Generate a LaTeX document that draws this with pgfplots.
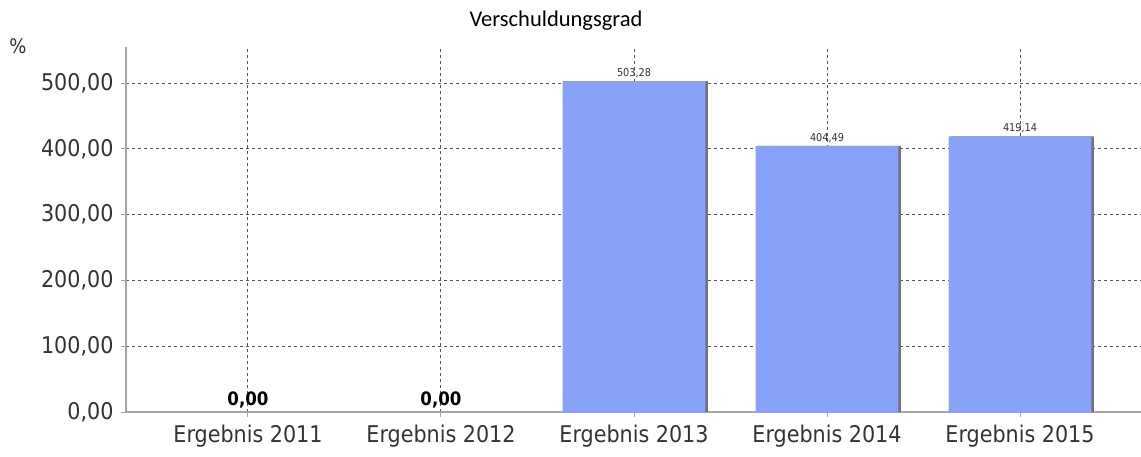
\documentclass[border=0pt]{standalone}
\usepackage{pgfplots}
\pgfplotsset{compat=1.18}
\usepackage{fontspec}
\setmainfont{DejaVu Sans Condensed}
\newfontfamily\titlefont{Carlito}
\usetikzlibrary{shadows}
\definecolor{barblue}{HTML}{87A2F8}
\definecolor{gridgray}{HTML}{555555}
\definecolor{axisgray}{HTML}{A6A6A6}
\definecolor{txtgray}{HTML}{333333}

\begin{document}
\begin{tikzpicture}
\useasboundingbox (0,0) rectangle (1141pt,456pt);
\begin{axis}[
  at={(126pt,44pt)}, anchor=south west,
  width=1015pt, height=365pt, scale only axis,
  xmin=-0.632, xmax=4.627,
  ymin=0, ymax=555,
  axis x line=bottom, axis y line=left,
  axis line style={axisgray, line width=1.6pt, -},
  xtick={0,1,2,3,4},
  xticklabels={Ergebnis 2011, Ergebnis 2012, Ergebnis 2013, Ergebnis 2014, Ergebnis 2015},
  ytick={0,100,200,300,400,500},
  tick align=outside,
  major tick length=5pt,
  tick style={axisgray, line width=1pt},
  grid=major,
  grid style={gridgray, line width=1pt, dash pattern=on 3pt off 3pt},
  ticklabel style={font=\fontsize{23}{25}\selectfont, text=txtgray},
  /pgf/number format/assume math mode=true,
  yticklabel style={/pgf/number format/fixed, /pgf/number format/fixed zerofill,
    /pgf/number format/precision=2, /pgf/number format/use comma,
    /pgf/number format/1000 sep={}, xshift=-4pt},
  xticklabel style={yshift=-4pt},
  ybar, bar width=0.74, bar shift=0pt,
]
\addplot[fill=barblue, draw=none,
  drop shadow={shadow xshift=2.5pt, shadow yshift=0pt, fill=black!55, opacity=1},
  nodes near coords,
  nodes near coords style={font=\fontsize{10.8}{12}\selectfont, text=txtgray,
    /pgf/number format/fixed, /pgf/number format/fixed zerofill,
    /pgf/number format/precision=2, /pgf/number format/use comma,
    /pgf/number format/1000 sep={}},
] coordinates {(2,503.28) (3,404.49) (4,419.14)};
\addplot[draw=none, fill=none,
  nodes near coords,
  nodes near coords style={font=\bfseries\fontsize{18.5}{20}\selectfont, text=black, yshift=0pt,
    /pgf/number format/fixed, /pgf/number format/fixed zerofill,
    /pgf/number format/precision=2, /pgf/number format/use comma},
] coordinates {(0,0) (1,0)};
\end{axis}
\node[font=\titlefont\fontsize{22.5}{24}\selectfont, text=black] at (556pt,435pt) {Verschuldungsgrad};
\node[font=\fontsize{20}{22}\selectfont, text=txtgray] at (18pt,410pt) {\%};
\end{tikzpicture}
\end{document}
